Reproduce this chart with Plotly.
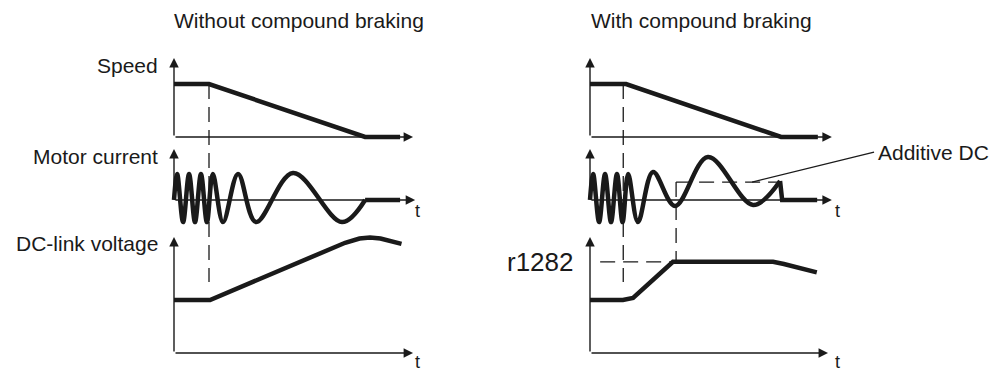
import plotly.graph_objects as go

W, H = 998, 371

# time in units of 3.5 px, zero at the vertical axis of each column
speed_t_without = [0, 10.0, 54.6, 64.6]
speed_without = [1, 1, 0, 0]
speed_t_with = [0, 10.3, 54.6, 65.1]
speed_with = [1, 1, 0, 0]

current_t_without = [0, 0.9, 2.6, 4.3, 6.0, 7.7, 9.4, 11.1, 14.0, 18.3, 23.4, 34.0, 48.0, 54.6]
current_without = [0, 1.0, -0.85, 1.0, -0.85, 1.0, -0.85, 1.0, -0.85, 1.0, -0.85, 1.04, -0.85, 0]
current_t_with = [0, 0.9, 2.6, 4.3, 6.0, 7.7, 9.3, 10.9, 13.7, 18.0, 24.3, 33.7, 46.6, 54.3]
current_with = [0, 1.0, -0.85, 1.0, -0.85, 1.0, -0.85, 1.0, -0.85, 1.08, -0.23, 1.65, -0.19, 0.73]
# current once the motor has stopped
tail_t_without = [54.6, 64.6]
tail_without = [0, 0]
tail_t_with = [54.3, 54.9, 64.9]
tail_with = [0.73, 0, 0]

dc_t_without = [0, 10.3, 48.9, 53.0, 56.0, 59.0, 65.0]
dc_without = [1.0, 1.0, 2.08, 2.16, 2.18, 2.16, 2.06]
dc_t_with = [0, 9.4, 12.3, 23.7, 52.3, 55.4, 64.8]
dc_with = [1.0, 1.0, 1.04, 1.72, 1.72, 1.68, 1.52]

t_brake = [10.0, 9.5]
t_dc_on = 24.6
t_dc_off = 53.4
t_leader = 46.3
additive_dc = 0.69
r1282 = 1.72
t_r1282_start = 2.9
brake_marker_end = 1.34  # in DC-link units

titles = ["Without compound braking", "With compound braking"]
row_labels = ["Speed", "Motor current", "DC-link voltage"]

# axis arrow tips (value axis / time axis)
y_tips = [1.49, 1.96, 2.19]
t_tips = [[68.3, 69.1], [68.9, 69.1], [68.3, 68.0]]
t_label_v = [-0.21, -0.42, -0.17]
t_label_t = [69.7, 70.6]

# layout geometry in pixels
PX_T = 3.5
cols = [dict(origin=174, lo=150, hi=440), dict(origin=590, lo=568, hi=860)]
rows = [dict(axis=137, scale=53, lo=40, hi=145),
        dict(axis=200, scale=26, lo=145, hi=230),
        dict(axis=353, scale=53, lo=230, hi=371)]

INK = "#1a1a1a"
FONT = "Liberation Sans, Arial, sans-serif"


def n_of(r, c):
    return r * 2 + c + 1


def xid(n):
    return "x" if n == 1 else f"x{n}"


def yid(n):
    return "y" if n == 1 else f"y{n}"


def paper_y(r, v):
    return 1 - (rows[r]["axis"] - v * rows[r]["scale"]) / H


fig = go.Figure()

series = [
    [(speed_t_without, speed_without, "linear"), (speed_t_with, speed_with, "linear")],
    [(current_t_without, current_without, "spline"), (current_t_with, current_with, "spline")],
    [(dc_t_without, dc_without, "linear"), (dc_t_with, dc_with, "linear")],
]
tails = [(tail_t_without, tail_without), (tail_t_with, tail_with)]

layout_axes = {}
annotations = []
shapes = []

for r, row in enumerate(rows):
    for c, col in enumerate(cols):
        n = n_of(r, c)
        sfx = "" if n == 1 else str(n)
        layout_axes["xaxis" + sfx] = dict(
            domain=[col["lo"] / W, col["hi"] / W],
            range=[(col["lo"] - col["origin"]) / PX_T, (col["hi"] - col["origin"]) / PX_T],
            visible=False, anchor=yid(n), fixedrange=True)
        layout_axes["yaxis" + sfx] = dict(
            domain=[1 - row["hi"] / H, 1 - row["lo"] / H],
            range=[(row["axis"] - row["hi"]) / row["scale"], (row["axis"] - row["lo"]) / row["scale"]],
            visible=False, anchor=xid(n), fixedrange=True)

        # axes with arrow heads
        for hx, hy in [(0, y_tips[r]), (t_tips[r][c], 0)]:
            annotations.append(dict(
                x=hx, y=hy, ax=0, ay=0, xref=xid(n), yref=yid(n),
                axref=xid(n), ayref=yid(n), text="", showarrow=True,
                arrowhead=2, arrowsize=1.35, arrowwidth=1.4, arrowcolor=INK))
        annotations.append(dict(
            x=t_label_t[c], y=t_label_v[r], xref=xid(n), yref=yid(n),
            text="t", showarrow=False, font=dict(size=18, color=INK, family=FONT)))

        t, v, shape = series[r][c]
        fig.add_trace(go.Scatter(
            x=t, y=v, xaxis=xid(n), yaxis=yid(n), mode="lines",
            line=dict(color=INK, width=4.5, shape=shape, smoothing=1.0),
            hoverinfo="skip"))
        if r == 1:
            fig.add_trace(go.Scatter(
                x=tails[c][0], y=tails[c][1], xaxis=xid(n), yaxis=yid(n), mode="lines",
                line=dict(color=INK, width=4.5), hoverinfo="skip"))

dash = dict(color=INK, width=1.3, dash="15px,8px")

# start of braking, through all three panels
for c in range(2):
    shapes.append(dict(type="line", xref=xid(n_of(0, c)), yref="paper",
                       x0=t_brake[c], x1=t_brake[c],
                       y0=paper_y(0, speed_with[0]), y1=paper_y(2, brake_marker_end),
                       line=dash))

# additive DC and r1282
cur_r = n_of(1, 1)
dc_r = n_of(2, 1)
shapes.append(dict(type="line", xref=xid(cur_r), yref="paper", x0=t_dc_on, x1=t_dc_on,
                   y0=paper_y(1, additive_dc), y1=paper_y(2, r1282), line=dash))
shapes.append(dict(type="line", xref=xid(cur_r), yref=yid(cur_r), x0=t_dc_on, x1=t_dc_off,
                   y0=additive_dc, y1=additive_dc, line=dash))
shapes.append(dict(type="line", xref=xid(dc_r), yref=yid(dc_r), x0=t_r1282_start, x1=dc_t_with[3],
                   y0=r1282, y1=r1282, line=dash))

annotations.append(dict(
    x=t_leader, y=additive_dc, xref=xid(cur_r), yref=yid(cur_r),
    ax=122, ay=-30, text="Additive DC", showarrow=True, arrowhead=0,
    arrowwidth=1.4, arrowcolor=INK, xanchor="left", yanchor="middle", borderpad=3,
    font=dict(size=21, color=INK, family=FONT)))
annotations.append(dict(
    x=-4.0, y=r1282, xref=xid(dc_r), yref=yid(dc_r), text="r1282",
    showarrow=False, xanchor="right", yanchor="middle",
    font=dict(size=26, color=INK, family=FONT)))

# column titles and row labels
for c, title in enumerate(titles):
    centre = [299, 701][c]
    annotations.append(dict(x=centre / W, y=1 - 20 / H, xref="paper", yref="paper",
                            text=title, showarrow=False, xanchor="center", yanchor="middle",
                            font=dict(size=21, color=INK, family=FONT)))
for r, label in enumerate(row_labels):
    annotations.append(dict(x=160 / W, y=1 - [65, 157, 243][r] / H, xref="paper", yref="paper",
                            text=label, showarrow=False, xanchor="right", yanchor="middle",
                            font=dict(size=21, color=INK, family=FONT)))

fig.update_layout(
    width=W, height=H, margin=dict(l=0, r=0, t=0, b=0),
    paper_bgcolor="white", plot_bgcolor="white", showlegend=False,
    annotations=annotations, shapes=shapes, **layout_axes)

# drop the page's default body margin so the figure sits at the window's corner
fig.write_html("out.html", config={"displayModeBar": False},
               post_script="document.body.style.margin='0px';")
